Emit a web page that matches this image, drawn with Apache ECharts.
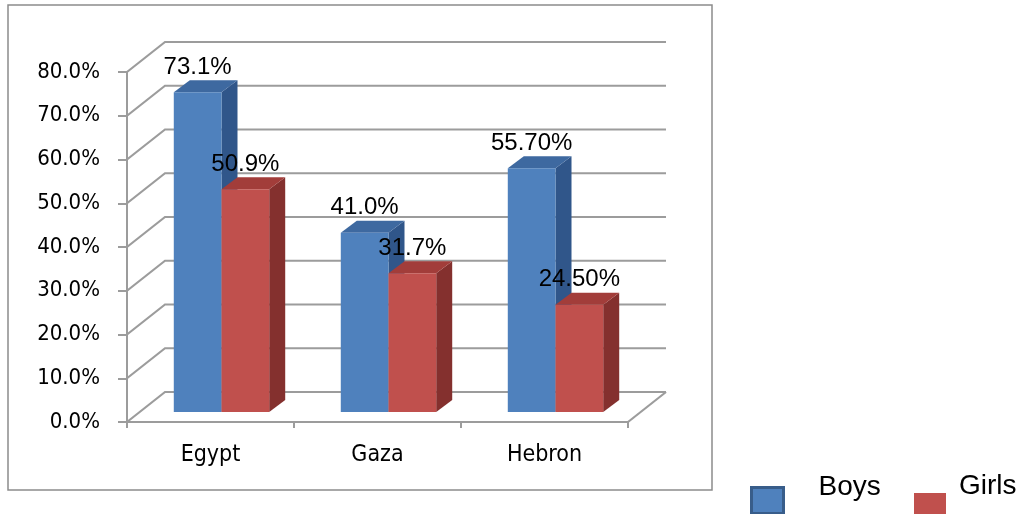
<!DOCTYPE html>
<html>
<head>
<meta charset="utf-8">
<script src="https://cdn.jsdelivr.net/npm/echarts@6/dist/echarts.min.js"></script>
<style>
  html, body { margin: 0; padding: 0; background: #ffffff; }
  #chart { width: 1021px; height: 514px; }
</style>
</head>
<body>
<div id="chart"></div>
<script>
// Share of children by location, boys vs girls
const categories = ['Egypt', 'Gaza', 'Hebron'];
const boys = [73.1, 41.0, 55.7];
const girls = [50.9, 31.7, 24.5];
const labelDecimals = [1, 1, 2];
const valueTicks = [0, 10, 20, 30, 40, 50, 60, 70, 80];
const seriesNames = ['Boys', 'Girls'];

const AXIS_FONT = '"Liberation Sans Narrow", "DejaVu Sans Condensed", "Liberation Sans", sans-serif';
const LABEL_FONT = '"Liberation Sans", Arial, sans-serif';
const LINE_GREY = '#9c9c9c';

// depth offsets (pixels) for the pseudo-3D look
const WALL_DX = 38, WALL_DY = -30;   // back wall relative to the front plane
const BAR_DX = 11, BAR_DY = -10;     // front face of the bars
const SIDE_DX = 16, SIDE_DY = -12;   // thickness of each bar

const palette = [
  { front: '#4f81bd', top: '#3e69a0', side: '#30568a' },
  { front: '#c0504d', top: '#a23d3a', side: '#84302e' }
];

function barRenderer(seriesIdx) {
  const faces = palette[seriesIdx];
  return function (params, api) {
    const ci = api.value(0);
    const v = api.value(1);
    const topPt = api.coord([ci, v]);
    const basePt = api.coord([ci, 0]);
    const cw = api.size([1, 0])[0];
    const bw = cw / 3.5;                      // gap width 150%
    const left = topPt[0] - bw + seriesIdx * bw + BAR_DX;
    const right = left + bw;
    const yT = topPt[1] + BAR_DY;
    const yB = basePt[1] + BAR_DY;
    return {
      type: 'group',
      children: [
        {
          type: 'polygon',
          shape: { points: [[right, yT], [right + SIDE_DX, yT + SIDE_DY], [right + SIDE_DX, yB + SIDE_DY], [right, yB]] },
          style: { fill: faces.side }
        },
        {
          type: 'polygon',
          shape: { points: [[left, yT], [left + SIDE_DX, yT + SIDE_DY], [right + SIDE_DX, yT + SIDE_DY], [right, yT]] },
          style: { fill: faces.top }
        },
        {
          type: 'rect',
          shape: { x: left, y: yT, width: bw, height: yB - yT },
          style: { fill: faces.front }
        },
        {
          type: 'text',
          x: left + bw / 2,
          y: yT - 25,
          style: {
            text: v.toFixed(labelDecimals[ci]) + '%',
            fill: '#000000',
            font: '24px ' + LABEL_FONT,
            align: 'center',
            verticalAlign: 'middle'
          }
        }
      ]
    };
  };
}

function wallRenderer(params, api) {
  const v = api.value(1);
  const y = api.coord([0, v])[1];
  const cs = params.coordSys;
  const x0 = cs.x, x1 = cs.x + cs.width;
  const children = [{
    type: 'polyline',
    shape: { points: [[x0, y], [x0 + WALL_DX, y + WALL_DY], [x1 + WALL_DX, y + WALL_DY]] },
    style: { stroke: LINE_GREY, lineWidth: 2.2, fill: null }
  }];
  if (v === valueTicks[0]) {
    children.push({
      type: 'line',
      shape: { x1: x1, y1: y, x2: x1 + WALL_DX, y2: y + WALL_DY },
      style: { stroke: LINE_GREY, lineWidth: 2.2 }
    });
  }
  return { type: 'group', children: children };
}

const chart = echarts.init(document.getElementById('chart'), null, { renderer: 'canvas' });

chart.setOption({
  backgroundColor: '#ffffff',
  animation: false,
  graphic: [{
    type: 'rect',
    shape: { x: 8, y: 5, width: 704, height: 485 },
    style: { fill: null, stroke: '#8c8c8c', lineWidth: 1.5 },
    z: -10
  }],
  grid: { left: 127, top: 72, width: 501, height: 350, containLabel: false },
  legend: [
    {
      // swatch sits in the lower half of the icon box so the name rides high
      data: [{
        name: seriesNames[0],
        icon: 'path://M0,0 M0,26 L32,26 L32,52 L0,52 Z',
        itemStyle: { color: palette[0].front, borderColor: '#385d8a', borderWidth: 3 }
      }],
      left: 750, top: 460, padding: 0,
      itemWidth: 32, itemHeight: 52,
      selectedMode: false,
      textStyle: { fontFamily: LABEL_FONT, fontSize: 28, color: '#000000', padding: [0, 0, 0, 30] }
    },
    {
      data: [{
        name: seriesNames[1],
        icon: 'path://M0,0 M0,42 L32,42 L32,70 L0,70 Z',
        itemStyle: { color: palette[1].front, borderWidth: 0 }
      }],
      left: 914, top: 451, padding: 0,
      itemWidth: 32, itemHeight: 70,
      selectedMode: false,
      textStyle: { fontFamily: LABEL_FONT, fontSize: 28, color: '#000000', padding: [0, 0, 0, 8] }
    }
  ],
  xAxis: {
    type: 'category',
    data: categories,
    boundaryGap: true,
    axisLine: { show: true, lineStyle: { color: LINE_GREY, width: 2 } },
    axisTick: { show: true, length: 6, interval: 0, lineStyle: { color: LINE_GREY, width: 2 } },
    axisLabel: { margin: 22, color: '#000000', fontFamily: AXIS_FONT, fontSize: 23 },
    splitLine: { show: false }
  },
  yAxis: {
    type: 'value',
    min: valueTicks[0],
    max: valueTicks[valueTicks.length - 1],
    interval: valueTicks[1] - valueTicks[0],
    axisLine: { show: true, lineStyle: { color: LINE_GREY, width: 2 } },
    axisTick: { show: true, length: 9, lineStyle: { color: LINE_GREY, width: 2 } },
    axisLabel: {
      margin: 27, color: '#000000', fontFamily: AXIS_FONT, fontSize: 22,
      formatter: function (val) { return val.toFixed(1) + '%'; }
    },
    splitLine: { show: false }
  },
  series: [
    {
      type: 'custom',
      name: 'walls',
      silent: true,
      clip: false,
      z: 1,
      renderItem: wallRenderer,
      data: valueTicks.map(function (t) { return [0, t]; })
    },
    {
      type: 'custom',
      name: seriesNames[0],
      clip: false,
      z: 2,
      itemStyle: { color: palette[0].front },
      renderItem: barRenderer(0),
      data: boys.map(function (v, i) { return [i, v]; })
    },
    {
      type: 'custom',
      name: seriesNames[1],
      clip: false,
      z: 3,
      itemStyle: { color: palette[1].front },
      renderItem: barRenderer(1),
      data: girls.map(function (v, i) { return [i, v]; })
    }
  ]
});
</script>
</body>
</html>
